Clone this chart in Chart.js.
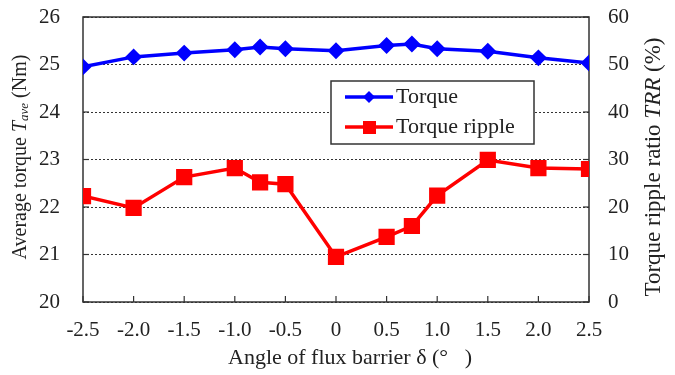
<!DOCTYPE html>
<html>
<head>
<meta charset="utf-8">
<script src="https://cdn.jsdelivr.net/npm/chart.js@4/dist/chart.umd.min.js"></script>
<style>
  body { margin: 0; background: #fff; }
  #wrap { width: 675px; height: 375px; position: relative; }
</style>
</head>
<body>
<div id="wrap"><canvas id="myChart"></canvas></div>
<script>
// angulo de la barrera de flujo (grados)
const angles = [-2.5, -2.0, -1.5, -1.0, -0.75, -0.5, 0, 0.5, 0.75, 1.0, 1.5, 2.0, 2.5];
// par promedio (Nm)
const torque = [24.95, 25.16, 25.24, 25.31, 25.37, 25.33, 25.29, 25.40, 25.43, 25.33, 25.28, 25.14, 25.03];
// rizado de par (%)
const ripple = [22.3, 19.8, 26.3, 28.2, 25.2, 24.8, 9.5, 13.7, 16.0, 22.4, 29.9, 28.2, 28.0];

const xTicks = [-2.5, -2.0, -1.5, -1.0, -0.5, 0, 0.5, 1.0, 1.5, 2.0, 2.5];
const leftTicks = [20, 21, 22, 23, 24, 25, 26];
const rightTicks = [0, 10, 20, 30, 40, 50, 60];
const seriesNames = ['Torque', 'Torque ripple'];

const serif = '"Liberation Serif", "DejaVu Serif", serif';
const txtColor = '#222';

function toPoints(xs, ys) {
  return xs.map((x, i) => ({ x: x, y: ys[i] }));
}

// dibuja texto con partes de distinta fuente, centrado en (0,0)
function drawParts(ctx, parts) {
  let total = 0;
  parts.forEach(p => { ctx.font = p.font; total += ctx.measureText(p.t).width; });
  let x = -total / 2;
  parts.forEach(p => {
    ctx.font = p.font;
    ctx.fillText(p.t, x, p.dy || 0);
    x += ctx.measureText(p.t).width;
  });
}

const extras = {
  id: 'extras',
  beforeDatasetsDraw(chart) {
    const ctx = chart.ctx;
    const a = chart.chartArea;
    ctx.save();
    ctx.strokeStyle = '#333';
    ctx.lineWidth = 1.5;
    ctx.strokeRect(a.left, a.top, a.right - a.left, a.bottom - a.top);
    // marcas hacia adentro
    ctx.lineWidth = 1.2;
    const xs = chart.scales.x;
    xTicks.forEach(v => {
      const px = xs.getPixelForValue(v);
      ctx.beginPath(); ctx.moveTo(px, a.bottom); ctx.lineTo(px, a.bottom - 6); ctx.stroke();
    });
    const ys = chart.scales.y;
    leftTicks.forEach(v => {
      const py = ys.getPixelForValue(v);
      ctx.beginPath(); ctx.moveTo(a.left, py); ctx.lineTo(a.left + 6, py); ctx.stroke();
      ctx.beginPath(); ctx.moveTo(a.right, py); ctx.lineTo(a.right - 6, py); ctx.stroke();
    });
    ctx.restore();
  },
  afterDatasetsDraw(chart) {
    const ctx = chart.ctx;
    ctx.save();
    // leyenda
    const lx = 331, ly = 81, lw = 203, lh = 63;
    ctx.fillStyle = '#fff';
    ctx.fillRect(lx, ly, lw, lh);
    ctx.strokeStyle = '#333';
    ctx.lineWidth = 1.5;
    ctx.strokeRect(lx, ly, lw, lh);
    const rows = [
      { y: 97, color: '#0000ff', shape: 'diamond' },
      { y: 127, color: '#ff0000', shape: 'square' }
    ];
    rows.forEach((r, i) => {
      ctx.strokeStyle = r.color;
      ctx.fillStyle = r.color;
      ctx.lineWidth = 3.5;
      ctx.beginPath(); ctx.moveTo(345, r.y); ctx.lineTo(393, r.y); ctx.stroke();
      if (r.shape === 'diamond') {
        ctx.beginPath();
        ctx.moveTo(369, r.y - 6); ctx.lineTo(375, r.y); ctx.lineTo(369, r.y + 6); ctx.lineTo(363, r.y);
        ctx.closePath(); ctx.fill();
      } else {
        ctx.fillRect(363, r.y - 6, 13, 13);
      }
      ctx.fillStyle = txtColor;
      ctx.font = '22px ' + serif;
      ctx.textBaseline = 'middle';
      ctx.textAlign = 'left';
      ctx.fillText(seriesNames[i], 396, r.y);
    });

    // titulos de ejes
    ctx.fillStyle = txtColor;
    ctx.textBaseline = 'middle';
    ctx.textAlign = 'left';

    ctx.save();
    ctx.translate(350, 358);
    drawParts(ctx, [{ t: 'Angle of flux barrier \u03b4 (\u00b0   )', font: '22px ' + serif }]);
    ctx.restore();

    ctx.save();
    ctx.translate(21, 157);
    ctx.rotate(-Math.PI / 2);
    drawParts(ctx, [
      { t: 'Average torque ', font: '20px ' + serif },
      { t: 'T', font: 'italic 20px ' + serif },
      { t: 'ave', font: 'italic 13px ' + serif, dy: 4 },
      { t: ' (Nm)', font: '20px ' + serif }
    ]);
    ctx.restore();

    ctx.save();
    ctx.translate(654, 167);
    ctx.rotate(-Math.PI / 2);
    drawParts(ctx, [
      { t: 'Torque ripple ratio ', font: '23px ' + serif },
      { t: 'TRR', font: 'italic 23px ' + serif },
      { t: ' (%)', font: '23px ' + serif }
    ]);
    ctx.restore();

    ctx.restore();
  }
};

function noPad(s) {
  s.paddingTop = 0; s.paddingBottom = 0; s.paddingLeft = 0; s.paddingRight = 0;
}

const ctx = document.getElementById('myChart').getContext('2d');
const chart = new Chart(ctx, {
  type: 'line',
  data: {
    datasets: [{
      label: seriesNames[0],
      data: toPoints(angles, torque),
      yAxisID: 'y',
      borderColor: '#0000ff',
      backgroundColor: '#0000ff',
      borderWidth: 3.5,
      pointStyle: 'rectRot',
      pointRadius: 6,
      pointHoverRadius: 6,
      tension: 0
    }, {
      label: seriesNames[1],
      data: toPoints(angles, ripple),
      yAxisID: 'y1',
      borderColor: '#ff0000',
      backgroundColor: '#ff0000',
      borderWidth: 3.5,
      pointStyle: 'rect',
      pointRadius: 9,
      pointHoverRadius: 9,
      tension: 0
    }]
  },
  options: {
    responsive: true,
    maintainAspectRatio: false,
    animation: false,
    layout: { padding: { top: 17, left: 0, right: 0, bottom: 0 } },
    plugins: { legend: { display: false }, tooltip: { enabled: false } },
    scales: {
      x: {
        type: 'linear',
        min: -2.5,
        max: 2.5,
        afterFit: s => { s.height = 73; noPad(s); },
        afterBuildTicks: s => { s.ticks = xTicks.map(v => ({ value: v })); },
        ticks: {
          color: txtColor,
          font: { family: serif, size: 21 },
          padding: 16,
          callback: v => v === 0 ? '0' : v.toFixed(1)
        },
        grid: { display: false, drawTicks: false },
        border: { display: false }
      },
      y: {
        position: 'left',
        min: 20,
        max: 26,
        afterFit: s => { s.width = 83; noPad(s); },
        afterBuildTicks: s => { s.ticks = leftTicks.map(v => ({ value: v })); },
        ticks: { color: txtColor, font: { family: serif, size: 21 }, padding: 23 },
        grid: { color: '#333', lineWidth: 1, drawTicks: false },
        border: { display: false, dash: [2, 2] }
      },
      y1: {
        position: 'right',
        min: 0,
        max: 60,
        afterFit: s => { s.width = 86; noPad(s); },
        afterBuildTicks: s => { s.ticks = rightTicks.map(v => ({ value: v })); },
        ticks: { color: txtColor, font: { family: serif, size: 21 }, padding: 19 },
        grid: { display: false, drawTicks: false },
        border: { display: false }
      }
    }
  },
  plugins: [extras]
});
</script>
</body>
</html>
